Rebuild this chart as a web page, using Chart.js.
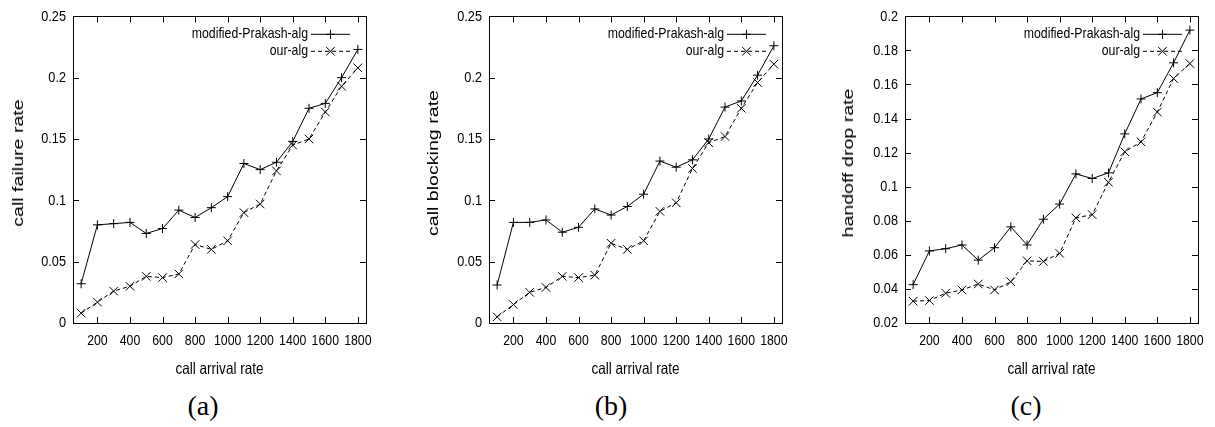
<!DOCTYPE html>
<html>
<head>
<meta charset="utf-8">
<script src="https://cdn.jsdelivr.net/npm/chart.js@4.4.1/dist/chart.umd.min.js"></script>
<style>
  html, body { margin: 0; padding: 0; background: #fff; }
  body { width: 1215px; height: 427px; position: relative; overflow: hidden; }
  .panel { position: absolute; top: 0; width: 390px; height: 390px; }
  .ylab {
    position: absolute; top: 163px;
    font-family: 'Liberation Sans', Arial, sans-serif; font-size: 14px; color: #000;
    white-space: nowrap;
    transform: translate(-50%, -50%) rotate(-90deg) scaleX(1.4);
  }
  .cap {
    position: absolute; top: 406px;
    font-family: 'Liberation Serif', 'DejaVu Serif', serif; font-size: 28px; color: #000;
    transform: translate(-50%, -50%);
  }
</style>
</head>
<body>
<div class="panel" style="left:0px"><canvas id="chartA" width="390" height="390"></canvas></div>
<div class="panel" style="left:416px"><canvas id="chartB" width="390" height="390"></canvas></div>
<div class="panel" style="left:832px"><canvas id="chartC" width="390" height="390"></canvas></div>
<div class="ylab" style="left:18px">call failure rate</div>
<div class="ylab" style="left:433px">call blocking rate</div>
<div class="ylab" style="left:848px">handoff drop rate</div>
<div class="cap" style="left:203px">(a)</div>
<div class="cap" style="left:611px">(b)</div>
<div class="cap" style="left:1026px">(c)</div>
<script>
// data
const arrivalRates = [100, 200, 300, 400, 500, 600, 700, 800, 900, 1000, 1100, 1200, 1300, 1400, 1500, 1600, 1700, 1800];
const xTickValues = [200, 400, 600, 800, 1000, 1200, 1400, 1600, 1800];
const rateTicks = [0, 0.05, 0.1, 0.15, 0.2, 0.25];
const dropTicks = [0.02, 0.04, 0.06, 0.08, 0.1, 0.12, 0.14, 0.16, 0.18, 0.2];
const seriesNames = ['modified-Prakash-alg', 'our-alg'];

const failurePrakash = [0.032, 0.080, 0.081, 0.082, 0.073, 0.077, 0.092, 0.086, 0.094, 0.103, 0.130, 0.125, 0.131, 0.148, 0.175, 0.179, 0.200, 0.223];
const failureOurs = [0.008, 0.017, 0.026, 0.030, 0.038, 0.037, 0.040, 0.064, 0.060, 0.067, 0.090, 0.097, 0.124, 0.145, 0.150, 0.172, 0.193, 0.208];

const blockingPrakash = [0.031, 0.082, 0.082, 0.084, 0.074, 0.078, 0.093, 0.088, 0.095, 0.105, 0.132, 0.127, 0.133, 0.150, 0.176, 0.181, 0.202, 0.226];
const blockingOurs = [0.005, 0.015, 0.025, 0.029, 0.038, 0.037, 0.039, 0.065, 0.060, 0.067, 0.091, 0.098, 0.126, 0.147, 0.152, 0.175, 0.196, 0.211];

const dropPrakash = [0.0425, 0.0623, 0.0636, 0.0658, 0.0569, 0.0642, 0.0764, 0.0658, 0.0809, 0.0898, 0.1075, 0.1048, 0.1081, 0.131, 0.1515, 0.1552, 0.1727, 0.1919];
const dropOurs = [0.0328, 0.0332, 0.0375, 0.0394, 0.0429, 0.0394, 0.0442, 0.0565, 0.0561, 0.0609, 0.0817, 0.0836, 0.1026, 0.1205, 0.1263, 0.1438, 0.1635, 0.1723];

const sans = '"Liberation Sans", Arial, sans-serif';

// no narrow font installed: squeeze canvas text horizontally around its anchor
const condensed = {
  id: 'condensed',
  beforeInit(chart) {
    const ctx = chart.ctx;
    const fill = ctx.fillText.bind(ctx);
    ctx.fillText = function(text, x, y) {
      ctx.save();
      ctx.translate(x, y);
      ctx.scale(0.82, 1);
      fill(text, 0, 0);
      ctx.restore();
    };
  }
};

// gnuplot style frame with inward ticks on all four sides
const gnuFrame = {
  id: 'gnuFrame',
  beforeDatasetsDraw(chart) {
    const { ctx, chartArea: a, scales } = chart;
    ctx.save();
    ctx.strokeStyle = '#000';
    ctx.lineWidth = 1;
    ctx.strokeRect(Math.round(a.left) + 0.5, Math.round(a.top) + 0.5, Math.round(a.right - a.left), Math.round(a.bottom - a.top));
    ctx.beginPath();
    scales.x.ticks.forEach(t => {
      const px = Math.round(scales.x.getPixelForValue(t.value)) + 0.5;
      ctx.moveTo(px, a.bottom); ctx.lineTo(px, a.bottom - 6);
      ctx.moveTo(px, a.top); ctx.lineTo(px, a.top + 6);
    });
    scales.y.ticks.forEach(t => {
      const py = Math.round(scales.y.getPixelForValue(t.value)) + 0.5;
      ctx.moveTo(a.left, py); ctx.lineTo(a.left + 6, py);
      ctx.moveTo(a.right, py); ctx.lineTo(a.right - 6, py);
    });
    ctx.stroke();
    ctx.restore();
  }
};

// key in the top right corner: label, line sample, marker
const gnuLegend = {
  id: 'gnuLegend',
  afterDatasetsDraw(chart) {
    const { ctx, chartArea: a } = chart;
    ctx.save();
    ctx.font = '15px ' + sans;
    ctx.textAlign = 'right';
    ctx.textBaseline = 'middle';
    ctx.fillStyle = '#000';
    chart.data.datasets.forEach((ds, i) => {
      const y = a.top + 18 + i * 17;
      const x1 = a.right - 55, x2 = a.right - 16;
      ctx.fillText(ds.label, x1 - 3, y);
      ctx.strokeStyle = ds.borderColor;
      ctx.lineWidth = ds.borderWidth;
      ctx.setLineDash(ds.borderDash || []);
      ctx.beginPath(); ctx.moveTo(x1, y); ctx.lineTo(x2, y); ctx.stroke();
      ctx.setLineDash([]);
      Chart.helpers.drawPoint(ctx, { pointStyle: ds.pointStyle, radius: ds.pointRadius, borderWidth: 1, rotation: 0 }, (x1 + x2) / 2, y);
    });
    ctx.restore();
  }
};

function makeChart(id, yTicks, prakash, ours) {
  return new Chart(document.getElementById(id), {
    type: 'line',
    data: {
      datasets: [{
        label: seriesNames[0],
        data: arrivalRates.map((x, i) => ({ x: x, y: prakash[i] })),
        borderColor: '#000',
        backgroundColor: '#000',
        borderWidth: 1,
        pointStyle: 'cross',
        pointRadius: 4.5,
        pointBorderWidth: 1,
        tension: 0
      }, {
        label: seriesNames[1],
        data: arrivalRates.map((x, i) => ({ x: x, y: ours[i] })),
        borderColor: '#000',
        backgroundColor: '#000',
        borderWidth: 1,
        borderDash: [4, 3],
        pointStyle: 'crossRot',
        pointRadius: 6,
        pointBorderWidth: 1,
        tension: 0
      }]
    },
    options: {
      responsive: false,
      animation: false,
      events: [],
      layout: { padding: { left: 0, top: 13, right: 24, bottom: 0 } },
      plugins: { legend: { display: false }, tooltip: { enabled: false } },
      scales: {
        x: {
          type: 'linear',
          min: 50,
          max: 1850,
          afterBuildTicks: s => { s.ticks = xTickValues.map(v => ({ value: v })); },
          afterFit: s => { s.height = 67; },
          grid: { display: false, drawTicks: false },
          border: { display: false },
          ticks: { color: '#000', font: { family: sans, size: 15 }, padding: 9, maxRotation: 0, autoSkip: false, callback: v => String(v) },
          title: { display: true, text: 'call arrival rate', color: '#000', font: { family: sans, size: 16.5 }, padding: { top: 0, bottom: 11 } }
        },
        y: {
          min: yTicks[0],
          max: yTicks[yTicks.length - 1],
          afterBuildTicks: s => { s.ticks = yTicks.map(v => ({ value: v })); },
          afterFit: s => { s.width = 73; },
          grid: { display: false, drawTicks: false },
          border: { display: false },
          ticks: { color: '#000', font: { family: sans, size: 15.5 }, padding: 7, autoSkip: false, callback: v => String(+v.toFixed(3)) }
        }
      }
    },
    plugins: [condensed, gnuFrame, gnuLegend]
  });
}

makeChart('chartA', rateTicks, failurePrakash, failureOurs);
makeChart('chartB', rateTicks, blockingPrakash, blockingOurs);
makeChart('chartC', dropTicks, dropPrakash, dropOurs);
</script>
</body>
</html>
